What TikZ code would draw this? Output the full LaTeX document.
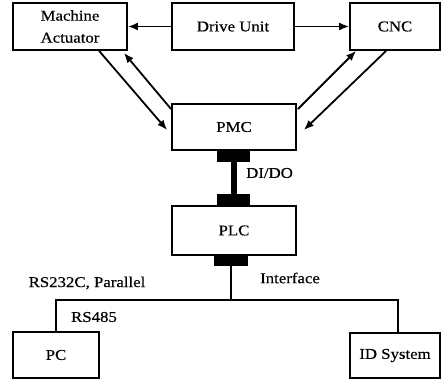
\documentclass[tikz,border=0pt]{standalone}
\usepackage{fontspec}
\setmainfont{Liberation Serif}[FakeStretch=1.12,FakeBold=0.4]
\usetikzlibrary{arrows.meta,calc}
\begin{document}
\begin{tikzpicture}[x=1pt,y=-1pt,
  box/.style={draw,line width=1.8pt,rectangle,inner sep=0pt,font=\fontsize{15}{22}\selectfont,align=center},
  pad/.style={fill=black,rectangle,inner sep=0pt,minimum width=33pt,minimum height=12pt},
  arr/.style={line width=1.8pt,-{Latex[length=10pt,width=8pt]}},
  wire/.style={line width=1.8pt},
  lbl/.style={font=\fontsize{15}{18}\selectfont,inner sep=0pt}]
\useasboundingbox (0,0) rectangle (441,380);
\node[box,minimum width=114pt,minimum height=47pt] (ma) at (70,26.5) {Machine\\Actuator};
\node[box,minimum width=122pt,minimum height=47pt] (drive) at (233,26.5) {Drive Unit};
\node[box,minimum width=90pt,minimum height=47pt] (cnc) at (395,26.5) {CNC};
\node[box,minimum width=124pt,minimum height=46pt] (pmc) at (234,127) {PMC};
\node[box,minimum width=124pt,minimum height=49pt] (plc) at (234,230.5) {PLC};
\node[box,minimum width=86pt,minimum height=46pt] (pc) at (56,355) {PC};
\node[box,minimum width=90pt,minimum height=45pt] (id) at (395,355.5) {ID System};
\node[pad] (p1) at (233.5,156) {};
\node[pad] (p2) at (233.5,200) {};
\node[pad,minimum width=34pt,minimum height=11pt] (p3) at (231,260.5) {};
\coordinate (j) at (231,300);
\draw[arr] (drive.west) -- (ma.east);
\draw[arr] (drive.east) -- (cnc.west);
\draw[arr] ($(ma.south west)+(87,0)$) -- ($(pmc.west)+(-4,3)$);
\draw[arr] ($(pmc.north west)+(0,6)$) -- ($(ma.south east)+(-4,2)$);
\draw[arr] ($(pmc.north east)+(1,6)$) -- ($(cnc.south west)+(7,0)$);
\draw[arr] ($(cnc.south west)+(37,0)$) -- ($(pmc.east)+(7,3)$);
\draw[line width=6pt] (p1.south) -- (p2.north);
\draw[wire] (p3.south) -- (j);
\draw[wire] (pc.north) |- (j) -| ($(id.north)+(3,0)$);
\node[lbl,anchor=west] (dido) at (246,173) {DI/DO};
\node[lbl] (iface) at (290,278) {Interface};
\node[lbl] (rs232) at (87,283) {RS232C, Parallel};
\node[lbl] (rs485) at (94,317) {RS485};
\end{tikzpicture}
\end{document}
